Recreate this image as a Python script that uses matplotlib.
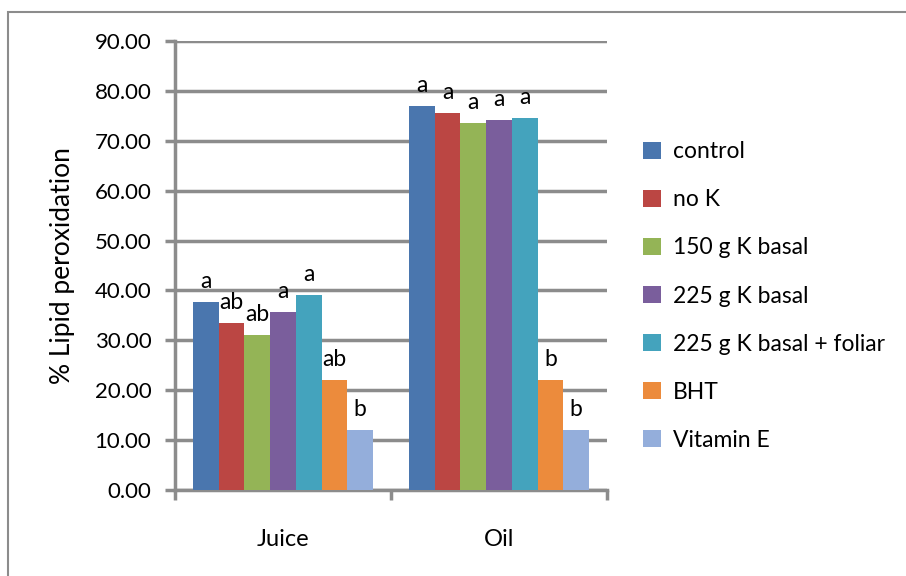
import matplotlib.pyplot as plt
import numpy as np
from matplotlib.patches import Rectangle

plt.rcParams["font.family"] = ["Lato", "DejaVu Sans"]

# data
groups = ["Juice", "Oil"]
treatments = [
    "control",
    "no K",
    "150 g K basal",
    "225 g K basal",
    "225 g K basal + foliar",
    "BHT",
    "Vitamin E",
]
juice = [37.7, 33.4, 31.0, 35.7, 39.0, 22.0, 12.0]
oil = [77.0, 75.5, 73.5, 74.2, 74.6, 22.0, 12.0]
juice_letters = ["a", "ab", "ab", "a", "a", "ab", "b"]
oil_letters = ["a", "a", "a", "a", "a", "b", "b"]
colors = ["#4a76ae", "#bb4643", "#94b456", "#7a5e9c", "#44a3bd", "#ec8b3c", "#94aedb"]

fig = plt.figure(figsize=(9.06, 5.76), dpi=100)
# outer chart border
fig.patches.append(
    Rectangle((8 / 906, -0.01), 1.0, (576 - 12) / 576 + 0.01,
              transform=fig.transFigure, fill=False, edgecolor="#8c8c8c", lw=1.5)
)
ax = fig.add_axes([175 / 906, 86 / 576, 432 / 906, 449 / 576])

grey = "#8c8c8c"
n = len(treatments)
bw = 0.119
x = np.arange(len(groups))
values = np.array([juice, oil])
letters = [juice_letters, oil_letters]

for i in range(n):
    pos = x - (n - 1) / 2 * bw + i * bw
    ax.bar(pos, values[:, i], width=bw, color=colors[i], label=treatments[i], zorder=3)
    for g in range(len(groups)):
        ax.text(pos[g], values[g, i] + 2.0, letters[g][i], ha="center", va="bottom",
                fontsize=16.5, zorder=4)

ax.set_ylim(0, 90)
ax.set_xlim(-0.5, 1.5)
ax.set_yticks(np.arange(0, 91, 10))
ax.set_yticklabels([f"{v:.2f}" for v in np.arange(0, 91, 10)], fontsize=16)
ax.yaxis.grid(True, color=grey, lw=2.5, zorder=0)
ax.set_axisbelow(True)

ax.set_xticks([-0.5, 0.5, 1.5])
ax.set_xticklabels([])
ax.set_xticks(x, minor=True)
ax.set_xticklabels(groups, minor=True, fontsize=17)
ax.tick_params(axis="x", which="minor", length=0, pad=28)
ax.tick_params(axis="x", which="major", length=7, width=2.5, color=grey)
ax.tick_params(axis="y", length=7, width=2.5, color=grey, pad=10)

for s in ["top", "right"]:
    ax.spines[s].set_visible(False)
for s in ["left", "bottom"]:
    ax.spines[s].set_color(grey)
    ax.spines[s].set_linewidth(2.5)

ax.set_ylabel("% Lipid peroxidation", fontsize=19, labelpad=14)

ax.legend(loc="center left", bbox_to_anchor=(1.035, 0.432), frameon=False, fontsize=16.5,
          handlelength=0.8, handleheight=0.8, handletextpad=0.5, labelspacing=1.18)

plt.savefig("out.png", dpi=100)
